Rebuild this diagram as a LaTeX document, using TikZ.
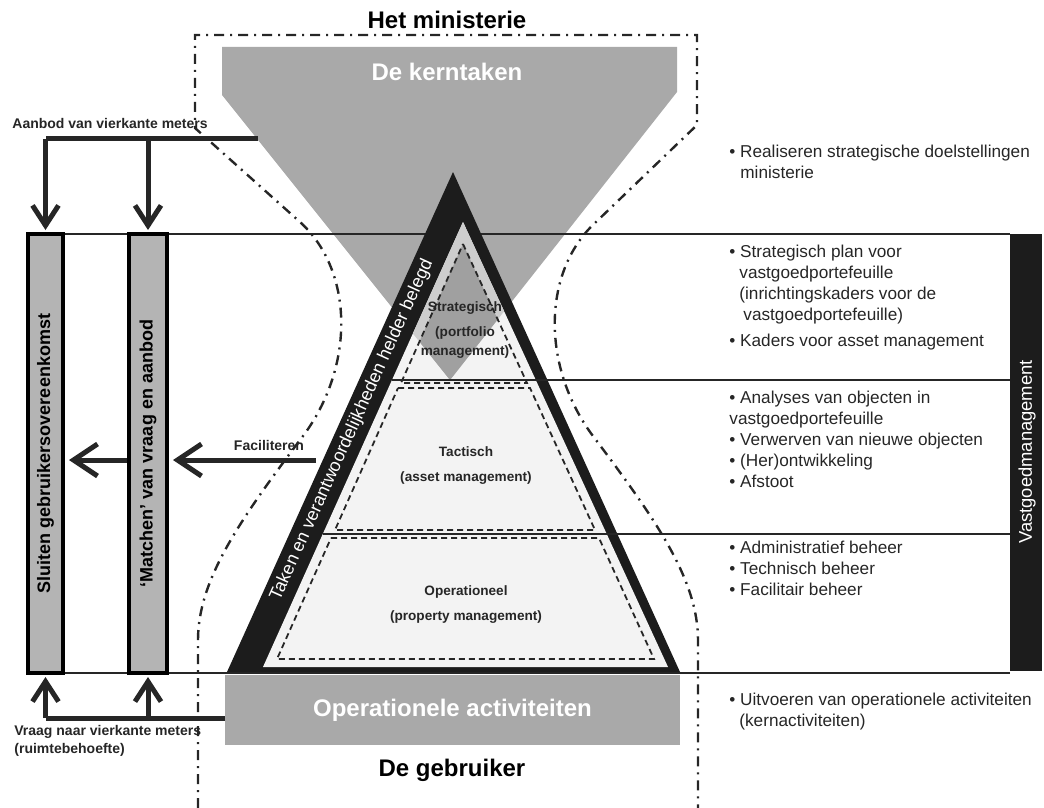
\documentclass[tikz,border=0pt]{standalone}
\usepackage{fontspec}
\setmainfont{Liberation Sans}
\usetikzlibrary{arrows.meta}

\definecolor{kerngray}{HTML}{A9A9A9}
\definecolor{boxgray}{HTML}{B4B4B4}
\definecolor{innerfill}{HTML}{F3F3F3}
\definecolor{stratlight}{HTML}{CDCDCD}
\definecolor{stratdark}{HTML}{A0A0A0}
\definecolor{bandblack}{HTML}{1C1C1C}
\definecolor{inkgray}{HTML}{262626}

\newcommand{\rightfont}{\fontsize{8.6}{10.5}\selectfont}
\newcommand{\pyrfont}{\bfseries\fontsize{6.8}{9.5}\selectfont}
\newcommand{\titlefont}{\bfseries\fontsize{12}{14}\selectfont}

\begin{document}
\begin{tikzpicture}[x=0.5pt,y=-0.5pt]
    \tikzstyle{thin line}=[draw=inkgray, line width=0.7pt]
    \tikzstyle{dash box}=[draw=inkgray, line width=0.9pt, dash pattern=on 3pt off 2pt]
    \tikzstyle{outline}=[draw=inkgray, line width=1.2pt, dash pattern=on 5pt off 3pt on 1pt off 3pt]
    \tikzstyle{task box}=[draw=black, line width=2pt, fill=boxgray, rotate=90, minimum width=219.5pt, inner sep=0pt, font=\bfseries\fontsize{9}{10}\selectfont]
    \tikzstyle{flow}=[draw=inkgray, line width=2.5pt]
    \tikzstyle{varrow}=[flow, -{Straight Barb[length=10pt,width=13pt]}]
    \tikzstyle{harrow}=[flow, -{Straight Barb[length=12pt,width=16pt]}]
    \tikzstyle{small label}=[inner sep=0pt, text=inkgray, font=\bfseries\fontsize{7}{9}\selectfont]
    \tikzstyle{level label}=[inner sep=0pt, text=inkgray, align=center, font=\pyrfont]
    \tikzstyle{bullets}=[inner sep=0pt, anchor=north west, align=left, text=inkgray, font=\rightfont]

    \useasboundingbox (0,0) rectangle (1044,808);

% Shapes
    % core tasks funnel
    \fill[kerngray] (222,47) -- (677,47) -- (677,92) -- (450,380) -- (222,95) -- cycle;

    % band lines
    \draw[thin line] (28,234) -- (1010,234);
    \draw[thin line] (28,673) -- (1010,673);

    % vastgoedmanagement bar
    \fill[bandblack] (1010,234) rectangle (1042,671);

    % pyramid
    \fill[bandblack] (227,672) -- (680,672) -- (453,172) -- cycle;
    \fill[innerfill] (263,667) -- (668,667) -- (463,222) -- cycle;
    \begin{scope}
        \clip (222,47) -- (677,47) -- (677,92) -- (450,380) -- (222,95) -- cycle;
        \fill[stratlight] (263,667) -- (668,667) -- (463,222) -- cycle;
        \fill[stratdark] (463,244) -- (527,383) -- (401,383) -- cycle;
    \end{scope}

    \draw[thin line] (392,380) -- (1010,380);
    \draw[thin line] (323,534) -- (1010,534);

    % levels
    \draw[dash box] (463,244) -- (527,383) -- (401,383) -- cycle;
    \draw[dash box] (398,388) -- (530,388) -- (595,530) -- (335,530) -- cycle;
    \draw[dash box] (331,538) -- (599,538) -- (654,659) -- (277,659) -- cycle;

    % ministry / user outline
    \draw[outline] (198,808) -- (198,640) .. controls (198,580) and (240,520) .. (300,440)
        .. controls (355,370) and (355,272) .. (300,222) -- (195,128) -- (195,35)
        -- (697,35) -- (697,125) -- (596,222) .. controls (541,272) and (541,370) .. (596,440)
        .. controls (656,520) and (698,580) .. (698,640) -- (698,808);

    % operational activities
    \node[fill=kerngray, minimum width=227.5pt, minimum height=35pt, inner sep=0pt,
          text=white, font=\titlefont] (opact) at (452.5,710) {Operationele activiteiten};

% Nodes
    \node[font=\titlefont, inner sep=0pt] (min) at (447,20) {Het ministerie};
    \node[font=\titlefont, text=white, inner sep=0pt] (kern) at (447,72) {De kerntaken};
    \node[font=\titlefont, inner sep=0pt] (user) at (452,770) {De gebruiker};

    \node[text=white, inner sep=0pt, rotate=65.7, font=\fontsize{9}{11}\selectfont] (band)
        at (352,430) {Taken en verantwoordelijkheden helder belegd};
    \node[text=white, inner sep=0pt, rotate=90, font=\fontsize{9.2}{11}\selectfont] (vgm)
        at (1027,452) {Vastgoedmanagement};

    \node[level label, anchor=north] (strat) at (465,301) {Strategisch\\[3pt](portfolio\\management)};
    \node[level label] (tact) at (466,466) {Tactisch\\[3pt](asset management)};
    \node[level label] (oper) at (466,605) {Operationeel\\[3pt](property management)};

    \node[task box, minimum height=17.5pt] (sluiten) at (45.5,453.5) {Sluiten gebruikersovereenkomst};
    \node[task box, minimum height=19pt] (matchen) at (148,453.5) {‘Matchen’ van vraag en aanbod};

    % text column
    \node[bullets] (t-kern) at (729,145) {• Realiseren strategische doelstellingen\\\hspace{5.5pt}ministerie};
    \node[bullets] (t-strat) at (729,245) {• Strategisch plan voor\\\hspace{5pt}vastgoedportefeuille\\\hspace{5pt}(inrichtingskaders voor de\\\hspace{7pt}vastgoedportefeuille)\\[2.5pt]• Kaders voor asset management};
    \node[bullets] (t-tact) at (729,391) {• Analyses van objecten in\\vastgoedportefeuille\\• Verwerven van nieuwe objecten\\• (Her)ontwikkeling\\• Afstoot};
    \node[bullets] (t-oper) at (729,541) {• Administratief beheer\\• Technisch beheer\\• Facilitair beheer};
    \node[bullets] (t-user) at (729,693) {• Uitvoeren van operationele activiteiten\\\hspace{5pt}(kernactiviteiten)};

% Paths
    \coordinate (aanbod) at (258,139);
    \coordinate (vraag) at (225,718);
    \coordinate (fac) at (316,460);

    % supply of square metres
    \draw[flow] (aanbod) -- (aanbod -| sluiten.east);
    \foreach \target in {sluiten,matchen}
        \draw[varrow] (aanbod -| \target.east) -- ([yshift=1pt]\target.east);

    % demand for square metres
    \draw[flow] (vraag) -- (vraag -| sluiten.west);
    \foreach \target in {sluiten,matchen}
        \draw[varrow] (vraag -| \target.west) -- ([yshift=-1pt]\target.west);

    % facilitating
    \draw[harrow] (fac) -- ([xshift=2pt]fac -| matchen.south);
    \draw[harrow] (fac -| matchen.north) -- ([xshift=2pt]fac -| sluiten.south);

% Labels
    \node[small label, anchor=west] (l-aanbod) at (12,123) {Aanbod van vierkante meters};
    \node[small label, anchor=north west, align=left] (l-vraag) at (14,725) {Vraag naar vierkante meters\\(ruimtebehoefte)};
    \node[small label] (l-fac) at (269,445) {Faciliteren};

\end{tikzpicture}
\end{document}
